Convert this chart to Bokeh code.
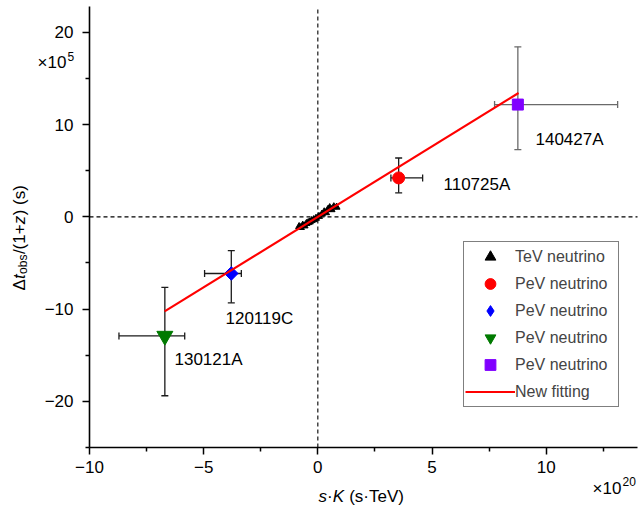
import math
from bokeh.plotting import figure
from bokeh.models import (ColumnDataSource, Whisker, TeeHead, Label,
                          Legend, LegendItem, FixedTicker)
from bokeh.embed import file_html
from bokeh.resources import INLINE

# ---------------- data ----------------
tev_x = [-0.82, -0.74, -0.66, -0.58, -0.50, -0.42, -0.35, -0.27, -0.18, -0.08,
         0.05, 0.18, 0.28, 0.36, 0.44, 0.52, 0.60, 0.70, 0.82]
tev_y = [-1.05, -1.15, -0.90, -0.98, -0.72, -0.62, -0.55, -0.40, -0.30, -0.15,
         0.05, 0.30, 0.55, 0.45, 0.80, 1.00, 0.78, 1.10, 1.05]

grb_names = ["110725A", "120119C", "130121A", "140427A"]
grb_x = [3.54, -3.79, -6.70, 8.76]
grb_y = [4.22, -6.14, -12.91, 12.17]
grb_x_lo = [3.20, -4.96, -8.71, 7.74]
grb_x_hi = [4.59, -3.35, -5.83, 13.13]
grb_y_lo = [2.60, -9.32, -19.39, 7.28]
grb_y_hi = [6.38, -3.66, -7.65, 18.43]

fit_x = [-6.71, 8.79]
fit_y = [-10.25, 13.43]

x_ticks = [-10, -5, 0, 5, 10]
x_minor = [-7.5, -2.5, 2.5, 7.5, 12.5]
y_ticks = [-20, -10, 0, 10, 20]
y_minor = [-25, -15, -5, 5, 15]

legend_labels = ["TeV neutrino", "PeV neutrino", "PeV neutrino", "PeV neutrino",
                 "PeV neutrino", "New fitting"]

# ---------------- layout ----------------
# axis extents (data) and where they sit on the page (pixels)
AX_X0, AX_X1, AX_Y0, AX_Y1 = -10, 14, -25, 22.8
PX_L, PX_R, PX_T, PX_B = 89, 637, 6, 447
W, H = 639, 506
XPX = (PX_R - PX_L) / (AX_X1 - AX_X0)
YPX = (PX_B - PX_T) / (AX_Y1 - AX_Y0)
# the frame fills the whole canvas; axes are drawn at fixed locations
x_start = AX_X0 - PX_L / XPX
x_end = AX_X0 + (W - PX_L) / XPX
y_end = AX_Y1 + PX_T / YPX
y_start = AX_Y0 - (H - PX_B) / YPX

FONT = "Liberation Sans"

p = figure(width=W, height=H, x_range=(x_start, x_end), y_range=(y_start, y_end),
           output_backend="svg", toolbar_location=None,
           min_border_left=0, min_border_right=0, min_border_top=0,
           min_border_bottom=0)
p.grid.visible = False
p.outline_line_color = None
p.background_fill_color = "white"
p.border_fill_color = "white"


def minus(v):
    return ("%g" % v).replace("-", "\u2212")


p.xaxis.fixed_location = AX_Y0
p.yaxis.fixed_location = AX_X0
p.xaxis.bounds = (AX_X0, AX_X1)
p.yaxis.bounds = (AX_Y0, AX_Y1)
for ax, ticks, minor in ((p.xaxis[0], x_ticks, x_minor), (p.yaxis[0], y_ticks, y_minor)):
    ax.ticker = FixedTicker(ticks=ticks, minor_ticks=minor)
    ax.major_label_overrides = {t: minus(t) for t in ticks}
    ax.axis_line_width = 1.6
    ax.axis_line_color = "black"
    ax.major_tick_out = 7
    ax.major_tick_in = 0
    ax.minor_tick_out = 4
    ax.minor_tick_in = 0
    ax.major_tick_line_width = 1.5
    ax.minor_tick_line_width = 1.5
    ax.major_tick_line_color = "black"
    ax.minor_tick_line_color = "black"
    ax.major_label_text_font = FONT
    ax.major_label_text_font_size = "17px"
    ax.major_label_text_color = "black"
p.xaxis.major_label_standoff = 6
p.yaxis.major_label_standoff = 9

# dashed zero reference lines, limited to the axes box
p.segment(x0=[0, AX_X0], y0=[AX_Y0, 0], x1=[0, AX_X1], y1=[AX_Y1, 0],
          line_color="black", line_width=1.1, line_dash="4 3")

# error bars
err_colors = ["#1a1a1a", "#1a1a1a", "#1a1a1a", "#6a6a6a"]
for i in range(len(grb_names)):
    src = ColumnDataSource(dict(x=[grb_x[i]], y=[grb_y[i]],
                                xl=[grb_x_lo[i]], xh=[grb_x_hi[i]],
                                yl=[grb_y_lo[i]], yh=[grb_y_hi[i]]))
    c = err_colors[i]
    for base, lo, hi, dim in (("y", "xl", "xh", "width"), ("x", "yl", "yh", "height")):
        p.add_layout(Whisker(source=src, base=base, lower=lo, upper=hi,
                             dimension=dim, line_color=c, line_width=1.3,
                             lower_head=TeeHead(size=7, line_color=c, line_width=1.3),
                             upper_head=TeeHead(size=7, line_color=c, line_width=1.3)))

# markers
r_tev = p.scatter(tev_x, tev_y, marker="triangle", size=7, color="black")
r_red = p.scatter([grb_x[0]], [grb_y[0]], marker="circle", size=12, color="#ff0000")
r_blue_leg = p.scatter([grb_x[1]], [grb_y[1]], marker="diamond", size=13,
                       color="#0000ff")
p.scatter([grb_x[1]], [grb_y[1]], marker="square", angle=math.pi / 4,
          size=9.6, color="#0000ff")
r_green = p.scatter([grb_x[2]], [grb_y[2]], marker="inverted_triangle", size=16,
                    color="#007a00")
r_purple = p.scatter([grb_x[3]], [grb_y[3]], marker="square", size=11, color="#8000ff")

r_fit = p.line(fit_x, fit_y, line_color="#ff0000", line_width=2.2)


# ---- text helper: page pixel position -> frame screen units ----
def add_text(px, py, text, size="17px", style="normal", align="left",
             baseline="middle", angle=0.0):
    p.add_layout(Label(x=px, y=H - py, x_units="screen", y_units="screen",
                       text=text, text_font=FONT, text_font_size=size,
                       text_font_style=style, text_align=align,
                       text_baseline=baseline, angle=angle, text_color="black"))


# event labels
lab_px = [(443, 184), (225, 318), (174, 359), (535, 139)]
for name, (lx, ly) in zip(grb_names, lab_px):
    add_text(lx, ly, name)

# legend
leg = Legend(items=[LegendItem(label=legend_labels[0], renderers=[r_tev]),
                    LegendItem(label=legend_labels[1], renderers=[r_red]),
                    LegendItem(label=legend_labels[2], renderers=[r_blue_leg]),
                    LegendItem(label=legend_labels[3], renderers=[r_green]),
                    LegendItem(label=legend_labels[4], renderers=[r_purple]),
                    LegendItem(label=legend_labels[5], renderers=[r_fit])],
             location=(463, H - 407), margin=0, padding=1, spacing=-2,
             glyph_width=50, glyph_height=27, label_height=27, label_standoff=0,
             label_width=102,
             label_text_font=FONT, label_text_font_size="16px",
             border_line_color="black", border_line_width=1,
             background_fill_color="white", background_fill_alpha=1.0)
p.add_layout(leg)

# y axis label, rotated, reading upward
ylab_x = 18.5
cur = 290.0
pieces = [("\u0394", "17px", "normal", 11.4, 0),
          ("t", "17px", "italic", 5.2, 0),
          ("obs", "12px", "normal", 19.8, 4),
          ("/(1+", "17px", "normal", 29.8, 0),
          ("z", "17px", "italic", 9.0, 0),
          (") (s)", "17px", "normal", 30.2, 0)]
for txt, sz, st, w, dx in pieces:
    add_text(ylab_x + dx, cur, txt, size=sz, style=st, angle=math.pi / 2)
    cur -= w

# x axis label (gap before the bracket is a positional offset)
cx = 318.0
xl_pieces = [("s", "17px", "italic", 8.5),
             ("\u00b7", "17px", "normal", 5.7),
             ("K", "17px", "italic", 11.8 + 4.7),
             ("(s\u00b7TeV)", "17px", "normal", 56.7)]
for txt, sz, st, w in xl_pieces:
    add_text(cx, 496, txt, size=sz, style=st)
    cx += w

# multipliers
add_text(37, 62, "\u00d710", size="17px")
add_text(67, 56, "5", size="12px")
add_text(592, 488, "\u00d710", size="17px")
add_text(622, 481, "20", size="12px")

open("out.html", "w").write(file_html(p, INLINE))
